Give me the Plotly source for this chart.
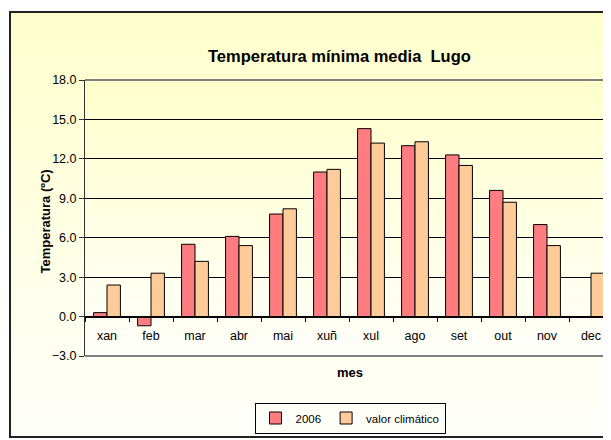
import plotly.graph_objects as go

# data
months = ["xan", "feb", "mar", "abr", "mai", "xuñ", "xul", "ago", "set", "out", "nov", "dec"]
temp_2006 = [0.3, -0.7, 5.5, 6.1, 7.8, 11.0, 14.3, 13.0, 12.3, 9.6, 7.0, None]
valor_climatico = [2.4, 3.3, 4.2, 5.4, 8.2, 11.2, 13.2, 13.3, 11.5, 8.7, 5.4, 3.3]
y_ticks = [-3, 0, 3, 6, 9, 12, 15, 18]

W, H = 611, 440
L, R, T, B = 77, 6, 72, 92
OFF = 8  # page body margin, positions below are measured on screen
pw = W - L - R
ph = H - T - B
FONT = "Arial, Liberation Sans, sans-serif"


def px(x):
    return (x - OFF - L) / pw


def py(y):
    return (H - B - (y - OFF)) / ph


def gradient(x0, x1, y0, y1, top, bottom, n=40):
    # stack of thin rectangles faking Excel's vertical gradient fill
    out = []
    step = (y1 - y0) / n
    for i in range(n):
        f = i / (n - 1)
        c = [round(top[k] + (bottom[k] - top[k]) * f) for k in range(3)]
        out.append(dict(type="rect", xref="paper", yref="paper", layer="below",
                        x0=px(x0), x1=px(x1), y0=py(y0 + step * (i + 1) + 0.5), y1=py(y0 + step * i),
                        fillcolor="rgb(%d,%d,%d)" % tuple(c), line=dict(width=0)))
    return out


yellow = (255, 255, 204)
white = (255, 255, 250)

shapes = []
shapes += gradient(10, 650, 12, 437, yellow, white)
shapes += gradient(85, 650, 80, 356, yellow, white)
# chart area border
shapes.append(dict(type="rect", xref="paper", yref="paper", layer="above",
                   x0=px(10), x1=px(660), y0=py(437), y1=py(12),
                   line=dict(color="#222222", width=2)))
# plot area border (top / bottom, gray)
for yy in (80, 356):
    shapes.append(dict(type="line", xref="paper", yref="paper", layer="above",
                       x0=0, x1=1.05, y0=py(yy), y1=py(yy),
                       line=dict(color="#808080", width=2)))

fig = go.Figure()
fig.add_trace(go.Bar(x=months, y=temp_2006, name="2006",
                     marker=dict(color="#FF7C80", line=dict(color="black", width=1))))
fig.add_trace(go.Bar(x=months, y=valor_climatico, name="valor climático",
                     marker=dict(color="#FFCC99", line=dict(color="black", width=1))))

fig.update_layout(
    width=W, height=H,
    margin=dict(l=L, r=R, t=T, b=B),
    paper_bgcolor="white",
    plot_bgcolor="rgba(0,0,0,0)",
    font=dict(family=FONT, size=12, color="black"),
    barmode="group", bargap=0.39, bargroupgap=0,
    showlegend=True,
    legend=dict(orientation="h", x=px(350), xanchor="center", y=py(418), yanchor="middle",
                bordercolor="black", borderwidth=1, bgcolor="rgba(0,0,0,0)",
                font=dict(size=11.5), itemwidth=30, tracegroupgap=0),
    shapes=shapes,
    xaxis=dict(type="category", anchor="free", position=3 / 21,
               range=[-0.5, 11.5], showline=True, linecolor="black", linewidth=1,
               ticks="outside", ticklen=4, tickcolor="black", tickson="boundaries",
               showgrid=False, ticklabelstandoff=7, tickfont=dict(size=12.5)),
    yaxis=dict(range=[-3, 18], tickvals=y_ticks, tickformat=".1f",
               showline=True, linecolor="#333333", linewidth=1,
               ticks="outside", ticklen=5, tickcolor="#333333",
               showgrid=True, gridcolor="black", gridwidth=1, zeroline=False,
               tickfont=dict(size=12.5)),
    annotations=[
        dict(text="<b>Temperatura mínima media  Lugo</b>", xref="paper", yref="paper",
             x=px(339), y=py(45), showarrow=False, font=dict(size=16.5)),
        dict(text="<b>Temperatura (ºC)</b>", xref="paper", yref="paper",
             x=px(35), y=py(222), textangle=-90, showarrow=False, font=dict(size=13)),
        dict(text="<b>mes</b>", xref="paper", yref="paper",
             x=px(350), y=py(382), showarrow=False, font=dict(size=13)),
    ],
)

fig.write_html("out.html")
